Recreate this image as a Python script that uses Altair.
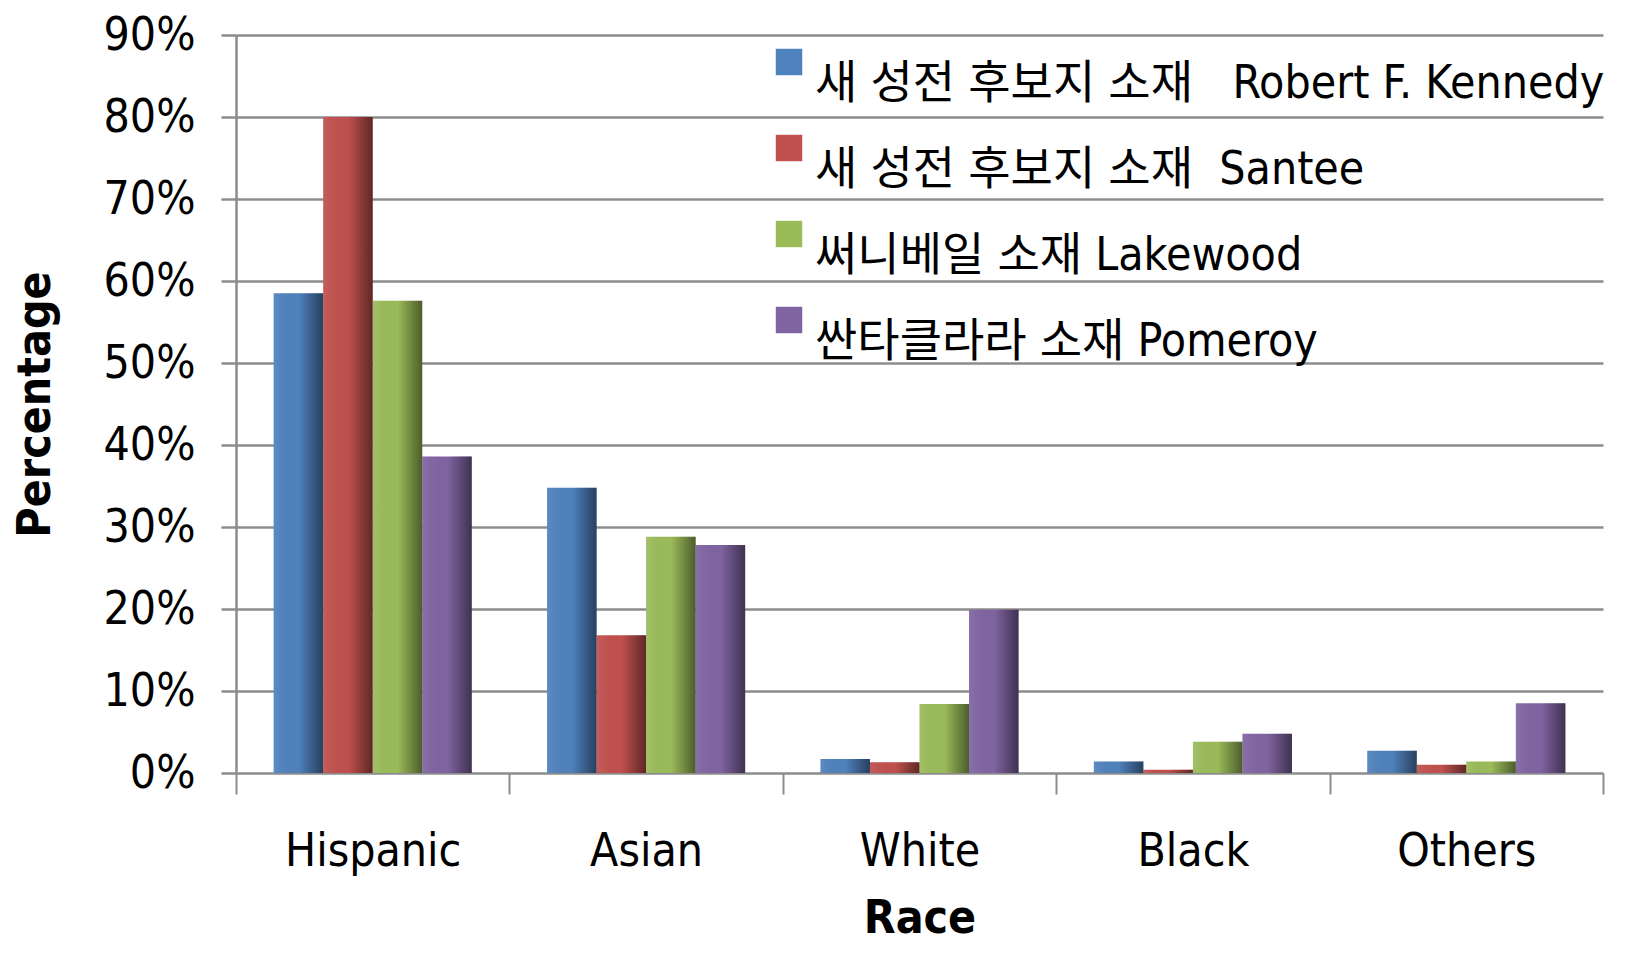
import altair as alt
import pandas as pd

races = ["Hispanic", "Asian", "White", "Black", "Others"]
series = [
    "새 성전 후보지 소재\u00a0\u00a0\u00a0Robert F. Kennedy",
    "새 성전 후보지 소재\u00a0\u00a0Santee",
    "써니베일 소재 Lakewood",
    "싼타클라라 소재 Pomeroy",
]
kennedy = [58.5, 34.8, 1.7, 1.4, 2.7]
santee = [80.0, 16.8, 1.3, 0.4, 1.0]
lakewood = [57.6, 28.8, 8.4, 3.8, 1.4]
pomeroy = [38.6, 27.8, 19.9, 4.8, 8.5]
colors = ["#4F81BD", "#C0504D", "#9BBB59", "#8064A2"]

rows = []
for s, vals in zip(series, [kennedy, santee, lakewood, pomeroy]):
    for r, v in zip(races, vals):
        rows.append({"Race": r, "Site": s, "Pct": v / 100.0})
df = pd.DataFrame(rows)

FONT = "Liberation Sans Narrow, DejaVu Sans Condensed, Noto Sans CJK KR, sans-serif"

x = alt.X(
    "Race:N",
    sort=races,
    scale=alt.Scale(paddingInner=0, paddingOuter=0),
    axis=alt.Axis(
        title="Race",
        labelAngle=0,
        labelFontSize=46,
        labelFont=FONT,
        labelColor="#000000",
        labelPadding=35,
        tickBand="extent",
        tickSize=21,
        tickColor="#8c8c8c",
        tickWidth=2,
        domain=False,
        grid=False,
        titleFontSize=46,
        titleFont=FONT,
        titleFontWeight="bold",
        titleColor="#000000",
        titlePadding=22,
    ),
)
y = alt.Y(
    "Pct:Q",
    scale=alt.Scale(domain=[0, 0.9]),
    axis=alt.Axis(
        title="Percentage",
        format=".0%",
        values=[0, 0.1, 0.2, 0.3, 0.4, 0.5, 0.6, 0.7, 0.8, 0.9],
        labelFontSize=46,
        labelFont=FONT,
        labelColor="#000000",
        labelPadding=26,
        tickSize=15,
        tickColor="#8c8c8c",
        tickWidth=2.5,
        domainColor="#8c8c8c",
        domainWidth=2.5,
        gridColor="#8c8c8c",
        gridWidth=2.5,
        titleFontSize=46,
        titleFont=FONT,
        titleFontWeight="bold",
        titleColor="#000000",
        titlePadding=44,
    ),
)
xoff = alt.XOffset(
    "Site:N", sort=series, scale=alt.Scale(paddingInner=0, paddingOuter=0.76)
)

bars = alt.Chart(df).mark_bar().encode(
    x=x,
    y=y,
    xOffset=xoff,
    color=alt.Color(
        "Site:N",
        sort=series,
        scale=alt.Scale(domain=series, range=colors),
        legend=alt.Legend(
            title=None,
            orient="none",
            legendX=530,
            legendY=4,
            labelFontSize=46,
            labelFont=FONT,
            labelColor="#000000",
            labelLimit=1200,
            labelBaseline="top",
            symbolType="square",
            symbolSize=700,
            symbolStrokeWidth=0,
            rowPadding=18,
            labelOffset=3,
        ),
    ),
)

shade = alt.Chart(df).mark_bar(
    color=alt.Gradient(
        gradient="linear",
        x1=0, x2=1, y1=0, y2=0,
        stops=[
            alt.GradientStop(color="rgba(255,255,255,0.08)", offset=0),
            alt.GradientStop(color="rgba(0,0,0,0)", offset=0.5),
            alt.GradientStop(color="rgba(0,0,0,0.5)", offset=1),
        ],
    )
).encode(x=x, y=y, xOffset=xoff)

chart = (
    alt.layer(bars, shade)
    .properties(
        width=1367,
        height=738,
        background="#ffffff",
        padding={"top": 4, "left": 4, "right": 4, "bottom": 4},
    )
    .configure_view(stroke=None)
    .configure_axis(gridCap="butt")
)

chart.save("out.html", embed_options={"renderer": "svg", "actions": False})
